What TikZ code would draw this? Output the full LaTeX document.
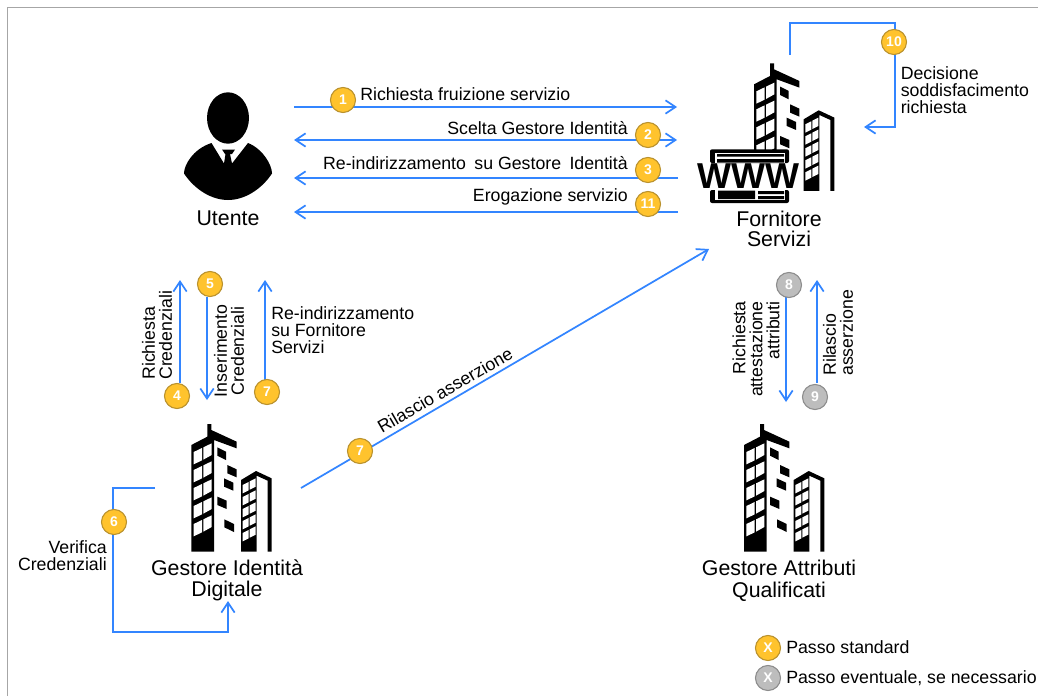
\documentclass[tikz,border=0pt]{standalone}
\usepackage{fontspec}
\setmainfont{Liberation Sans}
\usetikzlibrary{arrows.meta}
\definecolor{flowblue}{RGB}{51,133,255}
\definecolor{stepgold}{RGB}{255,195,45}
\definecolor{stepgoldline}{RGB}{185,145,45}
\definecolor{stepgray}{RGB}{189,189,189}
\definecolor{stepgrayline}{RGB}{140,140,140}
\definecolor{framegray}{RGB}{166,166,166}

\tikzset{
    flow/.style={draw=flowblue, line width=1.3pt, -{Straight Barb[length=7.5pt, width=10pt]}},
    flowboth/.style={flow, {Straight Barb[length=7.5pt, width=10pt]}-{Straight Barb[length=7.5pt, width=10pt]}},
    stepstd/.style={circle, fill=stepgold, draw=stepgoldline, line width=0.8pt, minimum size=18.8pt, inner sep=0pt,
        text=white, font=\fontsize{10.5}{11}\selectfont\bfseries},
    stepopt/.style={stepstd, fill=stepgray, draw=stepgrayline},
    lbl/.style={font=\fontsize{13.3}{12.8}\selectfont, inner sep=0pt},
    actor/.style={font=\fontsize{16}{15}\selectfont, inner sep=0pt, align=center},
    % office block, coordinates in thirds of a pixel
    building/.pic={
        \begin{scope}[x=0.25pt, y=-0.25pt]
            \fill[black] (184,105) -- (232,80) -- (232,42) -- (244,42) -- (244,60) -- (320,95) -- (320,115)
                -- (252,90) -- (252,425) -- (184,425) -- cycle;
            \foreach \r in {0,1,2,3,4} {
                \fill[white] (191,126+54*\r) -- (216,114+54*\r) -- (216,151+54*\r) -- (191,163+54*\r) -- cycle;
                \fill[white] (220,112+54*\r) -- (245,100+54*\r) -- (245,135+54*\r) -- (220,149+54*\r) -- cycle;
            }
            \fill[black] (262,112) -- (288,125) -- (288,150) -- (262,137) -- cycle;
            \fill[black] (292,165) -- (320,178) -- (320,202) -- (292,190) -- cycle;
            \fill[black] (282,205) -- (310,218) -- (310,242) -- (282,230) -- cycle;
            \fill[black] (262,260) -- (290,272) -- (290,297) -- (262,285) -- cycle;
            \fill[black] (283,328) -- (312,342) -- (312,366) -- (283,352) -- cycle;
            \fill[black] (333,210) -- (378,183) -- (425,205) -- (425,425) -- (413,425) -- (413,212)
                -- (380,197) -- (380,425) -- (333,425) -- cycle;
            \foreach \r in {0,1,2,3,4} {
                \fill[white] (338,225+36*\r) -- (356,216+36*\r) -- (356,241+36*\r) -- (338,250+36*\r) -- cycle;
                \fill[white] (359,214+36*\r) -- (377,205+36*\r) -- (377,230+36*\r) -- (359,239+36*\r) -- cycle;
            }
        \end{scope}
    }
}

\begin{document}
\begin{tikzpicture}[x=0.75pt, y=-0.75pt]
    \useasboundingbox (0,0) rectangle (1038,696);
    % frame
    \draw[framegray, line width=1.1pt] (7.5,696) -- (7.5,7.5) -- (1038,7.5);

    % user
    \fill[black] (228,118) ellipse (21 and 25.7);
    \fill[black] (211.5,143) .. controls (193,149) and (184,165) .. (184,173.5)
        .. controls (195,190) and (212,200) .. (228,200)
        .. controls (244,200) and (261,190) .. (272,173.5)
        .. controls (272,165) and (263,149) .. (248,143)
        -- (232,163.5) -- (230,154) -- (232,154) -- (235,149.5) -- (222,149.5) -- (225,154) -- (225.5,154)
        -- (224,163.5) -- cycle;
    \node[actor] (utente) at (228,218.5) {Utente};

    % service provider
    \pic at (692.7,49.3) {building};
    \fill[white] (698,158) rectangle (800,194);
    \fill[black, rounded corners=1.5pt] (710,149.3) rectangle (789,163);
    \fill[white] (715,152.5) rectangle (785,163);
    \fill[black] (717,154) rectangle (784,156.5) (717,159) rectangle (784,162.5);
    \fill[black, rounded corners=1.5pt] (710,190) rectangle (789,203);
    \fill[white] (715,190) rectangle (785,200);
    \fill[black] (718,190.5) rectangle (755,199) (758,191) rectangle (784,194) (758,196) rectangle (784,199);
    \node[font=\fontsize{27}{27}\selectfont\bfseries, inner sep=0pt] (www) at (748.5,176) {WWW};
    \node[actor] (fornitore) at (779,228.5) {Fornitore\\Servizi};

    % identity provider and attribute provider
    \pic at (130,410) {building};
    \node[actor] (gestore) at (227,580.5) {Gestore Identità\\[1.2pt]Digitale};
    \pic at (682.7,410) {building};
    \node[actor] (attributi) at (779,580.5) {Gestore Attributi\\[1.2pt]Qualificati};

    % connector ends
    \coordinate (userA) at (294,107);
    \coordinate (provA) at (677,107);
    \coordinate (userB) at (294,140);
    \coordinate (provB) at (677,140);
    \coordinate (userC) at (294,178);
    \coordinate (provC) at (678,178);
    \coordinate (userD) at (294,212);
    \coordinate (provD) at (678,212);
    \coordinate (loopFrom) at (790,55);
    \coordinate (loopTo) at (864,127);
    \coordinate (credUpFrom) at (180,383);
    \coordinate (credUpTo) at (180,280);
    \coordinate (credDownFrom) at (207,297);
    \coordinate (credDownTo) at (207,400);
    \coordinate (backFrom) at (265,380);
    \coordinate (backTo) at (265,280);
    \coordinate (assertFrom) at (301,488);
    \coordinate (assertTo) at (709,249);
    \coordinate (attrDownFrom) at (786,297);
    \coordinate (attrDownTo) at (786,402);
    \coordinate (attrUpFrom) at (817,383);
    \coordinate (attrUpTo) at (817,280);
    \coordinate (checkFrom) at (155,488);
    \coordinate (checkTo) at (228,601);

    % arrows
    \draw[flow] (userA) -- (provA);
    \draw[flowboth] (userB) -- (provB);
    \draw[flow] (provC) -- (userC);
    \draw[flow] (provD) -- (userD);
    \draw[flow] (loopFrom) |- (895,23) |- (loopTo);
    \draw[flow] (credUpFrom) -- (credUpTo);
    \draw[flow] (credDownFrom) -- (credDownTo);
    \draw[flow] (backFrom) -- (backTo);
    \draw[flow] (assertFrom) -- (assertTo);
    \draw[flow] (attrDownFrom) -- (attrDownTo);
    \draw[flow] (attrUpFrom) -- (attrUpTo);
    \draw[flow] (checkFrom) -| (112.7,632) -| (checkTo);

    % step badges
    \node[stepstd] (sOne) at (343,100) {1};
    \node[stepstd] (sTwo) at (648,135) {2};
    \node[stepstd] (sThree) at (648,170) {3};
    \node[stepstd] (sEleven) at (648,204) {11};
    \node[stepstd] (sTen) at (894,42) {10};
    \node[stepstd] (sFour) at (177,396) {4};
    \node[stepstd] (sFive) at (210,284) {5};
    \node[stepstd] (sSevenA) at (267,392) {7};
    \node[stepstd] (sSevenB) at (360,451) {7};
    \node[stepstd] (sSix) at (114,522) {6};
    \node[stepopt] (sEight) at (789,285) {8};
    \node[stepopt] (sNine) at (815,397) {9};

    % arrow labels
    \node[lbl, anchor=west] (tOne) at (360,94) {Richiesta fruizione servizio};
    \node[lbl, anchor=east] (tTwo) at (628,128) {Scelta Gestore Identità};
    \node[lbl, anchor=east] (tThree) at (628,163) {Re-indirizzamento\ \hspace{2.6pt}su Gestore\ \hspace{2.6pt}Identità};
    \node[lbl, anchor=east] (tEleven) at (628,197) {Erogazione servizio};
    \node[lbl, anchor=west, align=left] (tTen) at (900.5,90) {Decisione\\soddisfacimento\\richiesta};
    \node[lbl, rotate=90, anchor=west, align=left] (tFour) at (157,380) {Richiesta\\Credenziali};
    \node[lbl, rotate=90, align=center] (tFive) at (229,351) {Inserimento\\Credenziali};
    \node[lbl, anchor=west, align=left] (tSeven) at (271,330) {Re-indirizzamento\\su Fornitore\\Servizi};
    \node[lbl, rotate=30] (tAssert) at (445,390) {Rilascio asserzione};
    \node[lbl, rotate=90, anchor=east, align=right] (tEight) at (756,301) {Richiesta\\attestazione\\attributi};
    \node[lbl, rotate=90, anchor=west, align=left] (tNine) at (838,376) {Rilascio\\asserzione};
    \node[lbl, anchor=east, align=right] (tSix) at (107,555.5) {Verifica\\Credenziali};

    % legend
    \node[stepstd] (legStd) at (768,648) {X};
    \node[lbl, anchor=west] (legStdText) at (786,647) {Passo standard};
    \node[stepopt] (legOpt) at (768,678) {X};
    \node[lbl, anchor=west] (legOptText) at (786,678) {Passo eventuale, se necessario};
\end{tikzpicture}
\end{document}
